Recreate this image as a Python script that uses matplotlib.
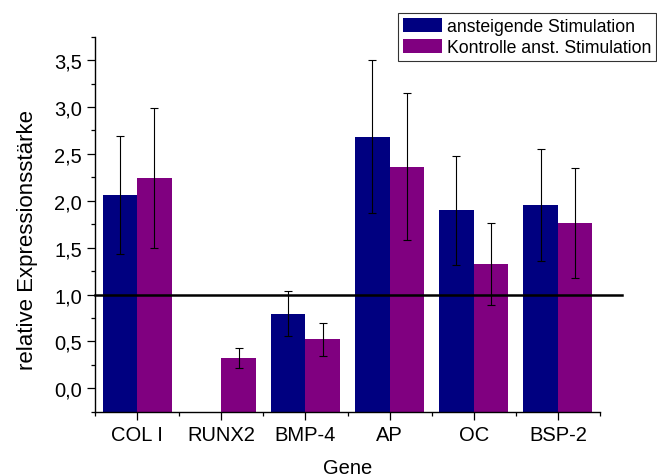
import numpy as np
import matplotlib
matplotlib.use("Agg")
import matplotlib.pyplot as plt
from matplotlib.ticker import FixedLocator, FuncFormatter

plt.rcParams['font.family'] = ['Liberation Sans', 'DejaVu Sans']

genes = ["COL I", "RUNX2", "BMP-4", "AP", "OC", "BSP-2"]
stim = [2.06, np.nan, 0.795, 2.685, 1.90, 1.953]
stim_err = [0.63, np.nan, 0.24, 0.82, 0.58, 0.60]
ctrl = [2.24, 0.321, 0.523, 2.363, 1.326, 1.765]
ctrl_err = [0.745, 0.107, 0.175, 0.785, 0.44, 0.585]
series_labels = ["ansteigende Stimulation", "Kontrolle anst. Stimulation"]

W, H = 657, 477
fig = plt.figure(figsize=(W / 100, H / 100), dpi=100)
ax = fig.add_axes([95 / W, 1 - 412.7 / H, 505 / W, 375 / H])

y_lo, y_hi = -0.25, 3.75
x = np.arange(1, len(genes) + 1)
bw = 0.41
err_kw = dict(ecolor="black", elinewidth=0.8, capsize=2.6, capthick=0.8)

# bars rise from the bottom of the value axis
stim_h = np.array(stim) - y_lo
ctrl_h = np.array(ctrl) - y_lo
b1 = ax.bar(x - bw / 2, stim_h, bw, bottom=y_lo, color="#000080",
            label=series_labels[0], zorder=2)
b2 = ax.bar(x + bw / 2, ctrl_h, bw, bottom=y_lo, color="#800080",
            label=series_labels[1], zorder=2)
ax.errorbar(x - bw / 2, stim, yerr=stim_err, fmt="none", zorder=4, **err_kw)
ax.errorbar(x + bw / 2, ctrl, yerr=ctrl_err, fmt="none", zorder=4, **err_kw)

# reference level at 1.0, running a little past the right end of the axis
ax.axhline(1.0, xmin=0, xmax=1.043, color="black", lw=1.8, clip_on=False, zorder=3)

ax.set_xlim(0.5, 6.5)
ax.set_ylim(y_lo, y_hi)

for s in ("top", "right"):
    ax.spines[s].set_visible(False)
for s in ("left", "bottom"):
    ax.spines[s].set_linewidth(1.0)

ax.set_xticks(x)
ax.set_xticklabels(genes)
ax.xaxis.set_minor_locator(FixedLocator(np.arange(0.5, 6.6, 1.0)))
ax.set_yticks(np.arange(0, 3.51, 0.5))
ax.yaxis.set_minor_locator(FixedLocator(np.arange(-0.25, 3.76, 0.25)))
ax.yaxis.set_major_formatter(FuncFormatter(lambda v, p: f"{v:.1f}".replace(".", ",")))
ax.tick_params(which="major", direction="out", length=5.5, width=0.9, labelsize=14.5, pad=4)
ax.tick_params(which="minor", direction="out", length=3, width=0.9)

ax.set_ylabel("relative Expressionsstärke", fontsize=16)
ax.yaxis.set_label_coords(-0.113, 0.46)
ax.set_xlabel("Gene", fontsize=14.5)
ax.xaxis.set_label_coords(0.5, -0.1245)

leg = fig.legend(handles=[b1, b2], labels=series_labels, loc="upper right",
                 bbox_to_anchor=(656 / W, 1 - 14 / H), fontsize=12.7,
                 frameon=True, fancybox=False, edgecolor="black",
                 handlelength=2.2, handleheight=0.8, handletextpad=0.28,
                 labelspacing=0.24, borderpad=0.28, borderaxespad=0)
leg.get_frame().set_linewidth(0.8)

fig.savefig("out.png", dpi=100)
